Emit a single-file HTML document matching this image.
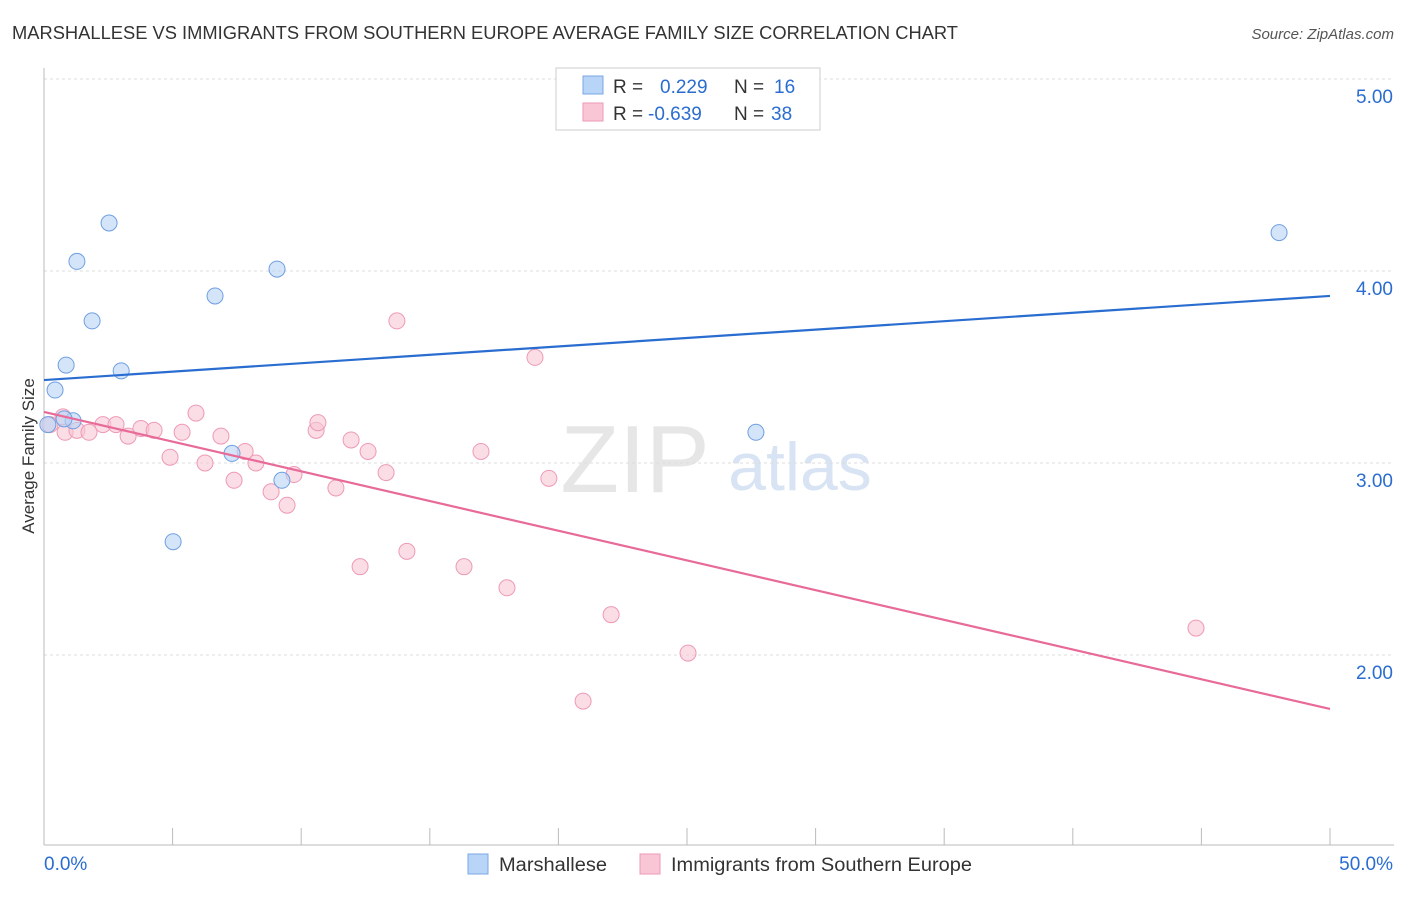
<!DOCTYPE html>
<html><head><meta charset="utf-8"><style>
body{margin:0;background:#fff;font-family:"Liberation Sans",sans-serif}
svg text{font-family:"Liberation Sans",sans-serif}
</style></head><body>
<svg id="c" width="1406" height="892">
<text x="12" y="39" font-size="18" fill="#333" textLength="946" lengthAdjust="spacingAndGlyphs">MARSHALLESE VS IMMIGRANTS FROM SOUTHERN EUROPE AVERAGE FAMILY SIZE CORRELATION CHART</text>
<text x="1394" y="39" font-size="15" fill="#555" font-style="italic" text-anchor="end">Source: ZipAtlas.com</text>
<text x="635" y="492" font-size="96" fill="#e6e6e6" font-family="Liberation Serif" text-anchor="middle">ZIP</text>
<text x="800" y="490" font-size="68" fill="#d8e4f4" text-anchor="middle">atlas</text>
<text x="34" y="456" font-size="17" fill="#333" text-anchor="middle" transform="rotate(-90 34 456)">Average Family Size</text>
<g id="grid"></g><g id="marks"></g>
<g>
<rect x="556" y="68" width="264" height="62" fill="#fff" stroke="#ccc"/>
<rect x="583" y="76" width="20" height="18" fill="#b8d4f6" stroke="#7aa8e6"/>
<rect x="583" y="103" width="20" height="18" fill="#f9c6d6" stroke="#ee9ab5"/>
<text x="613" y="93" font-size="19" fill="#333">R = <tspan fill="#2a6dd0" x="660">0.229</tspan><tspan fill="#333" x="734">N = </tspan><tspan fill="#2a6dd0" x="774">16</tspan></text>
<text x="613" y="120" font-size="19" fill="#333">R = <tspan fill="#2a6dd0" x="648">-0.639</tspan><tspan fill="#333" x="734">N = </tspan><tspan fill="#2a6dd0" x="771">38</tspan></text>
</g>
<g>
<rect x="468" y="854" width="20" height="20" fill="#b8d4f6" stroke="#7aa8e6"/>
<text x="499" y="871" font-size="19" fill="#333" textLength="108" lengthAdjust="spacingAndGlyphs">Marshallese</text>
<rect x="640" y="854" width="20" height="20" fill="#f9c6d6" stroke="#ee9ab5"/>
<text x="671" y="871" font-size="19" fill="#333" textLength="301" lengthAdjust="spacingAndGlyphs">Immigrants from Southern Europe</text>
</g>
</svg>
<script>
const yTicks=[2,3,4,5];
const yTickLabels=["2.00","3.00","4.00","5.00"];
const blueX=[0.15,0.43,0.86,1.28,1.87,2.53,3.0,1.13,0.78,5.02,6.65,7.31,9.06,9.25,27.68,48.02];
const blueY=[3.20,3.38,3.51,4.05,3.74,4.25,3.48,3.22,3.23,2.59,3.87,3.05,4.01,2.91,3.16,4.20];
const pinkX=[0.23,0.74,0.82,1.28,1.75,2.29,2.8,3.27,3.77,4.28,4.9,5.37,5.91,6.26,6.88,7.39,7.82,8.24,8.83,9.45,9.72,10.58,10.65,11.35,11.94,12.29,12.6,13.3,13.72,14.11,16.33,16.99,18.0,19.09,19.63,20.96,22.05,25.04,44.79];
const pinkY=[3.20,3.24,3.16,3.17,3.16,3.20,3.20,3.14,3.18,3.17,3.03,3.16,3.26,3.00,3.14,2.91,3.06,3.00,2.85,2.78,2.94,3.17,3.21,2.87,3.12,2.46,3.06,2.95,3.74,2.54,2.46,3.06,2.35,3.55,2.92,1.76,2.21,2.01,2.14];
const blueLine=[3.432,3.870];
const pinkLine=[3.266,1.719];
const X0=44,X1=1330,Y5=79,PU=192;
const sx=v=>X0+(v/50)*(X1-X0);
const sy=v=>Y5+(5-v)*PU;
const NS="http://www.w3.org/2000/svg";
const g=document.getElementById('grid'),m=document.getElementById('marks');
function mk(t,a,p){const e=document.createElementNS(NS,t);for(const k in a)e.setAttribute(k,a[k]);p.appendChild(e);return e;}
yTicks.forEach((t,i)=>{
 const l=mk('line',{x1:X0,x2:1394,y1:sy(t),y2:sy(t),stroke:'#ddd','stroke-dasharray':'3,3'},g);
 
 
 const tx=mk('text',{x:1393,y:sy(t)+24,'font-size':19,fill:'#2a6dd0','text-anchor':'end'},g);
 tx.textContent=yTickLabels[i];
 
 
});
const ax=mk('line',{x1:X0,x2:1394,y1:845,y2:845,stroke:'#bbb'},g);


const ay=mk('line',{x1:X0,x2:X0,y1:68,y2:845,stroke:'#bbb'},g);


for(let i=0;i<=10;i++){const t=mk('line',{x1:sx(i*5),x2:sx(i*5),y1:828,y2:845,stroke:'#bbb'},g);
 
 }
[["0.0%",44,'start'],["50.0%",1393,'end']].forEach(d=>{const t=mk('text',{x:d[1],y:870,'font-size':19,fill:'#2a6dd0','text-anchor':d[2]},g);t.textContent=d[0];
 
 });
function pts(xs,ys,f,s,n){xs.forEach((x,i)=>{const c=mk('circle',{cx:sx(x),cy:sy(ys[i]),r:8,fill:f,'fill-opacity':0.6,stroke:s,'stroke-width':1},m);
 
 });}
pts(pinkX,pinkY,'#f9c6d6','#ee9ab5','immigrants-point');
pts(blueX,blueY,'#b8d4f6','#6f9fe0','marshallese-point');
const bl=mk('line',{x1:sx(0),y1:sy(blueLine[0]),x2:sx(50),y2:sy(blueLine[1]),stroke:'#2a6dd0','stroke-width':2.2},m);


const pl=mk('line',{x1:sx(0),y1:sy(pinkLine[0]),x2:sx(50),y2:sy(pinkLine[1]),stroke:'#e86a98','stroke-width':2.2},m);


</script>
</body></html>
